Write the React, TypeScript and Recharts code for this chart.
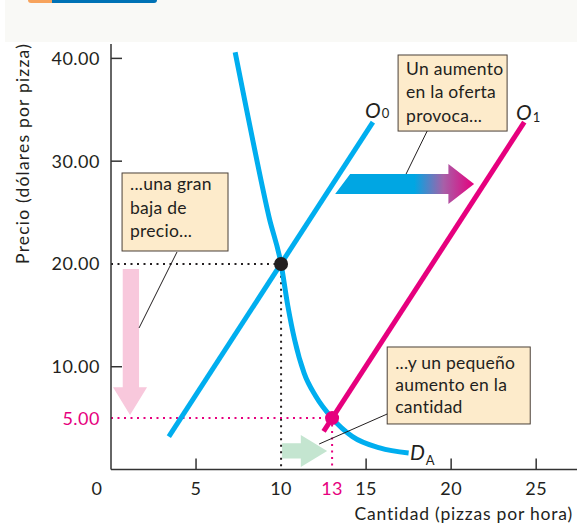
import React from 'react';
import {
  ComposedChart,
  Line,
  XAxis,
  YAxis,
  Label,
  ReferenceArea,
  ReferenceLine,
  ReferenceDot,
} from 'recharts';

// ---------- data ----------
const priceTicks = [5, 10, 20, 30, 40];
const quantityTicks = [0, 5, 10, 13, 15, 20, 25];
const priceDomain = [0, 41.4];
const quantityDomain = [0, 27.4];

const supplyO0 = [
  { q: 3.4, p: 3.2 },
  { q: 15.4, p: 33.8 },
];
const supplyO1 = [
  { q: 12.5, p: 3.7 },
  { q: 24.3, p: 33.8 },
];
const demandDA = [
  { q: 7.3, p: 40.6 },
  { q: 7.9, p: 35.6 },
  { q: 8.45, p: 31.1 },
  { q: 9.3, p: 24.5 },
  { q: 10, p: 20 },
  { q: 10.4, p: 15.9 },
  { q: 10.8, p: 12.6 },
  { q: 11.35, p: 9.4 },
  { q: 12.05, p: 7.1 },
  { q: 13, p: 5 },
  { q: 14.2, p: 3.2 },
  { q: 15.8, p: 2.1 },
  { q: 17.5, p: 1.6 },
];
const initialEquilibrium = { q: 10, p: 20 };
const newEquilibrium = { q: 13, p: 5 };
const initialGuide = [
  { q: 0, p: 20 },
  { q: 10, p: 20 },
  { q: 10, p: 0 },
];
const newGuide = [
  { q: 0, p: 5 },
  { q: 13, p: 5 },
  { q: 13, p: 0 },
];

const yTitle = 'Precio (dólares por pizza)';
const xTitle = 'Cantidad (pizzas por hora)';
const calloutPrice = ['...una gran', 'baja de', 'precio...'];
const calloutSupply = ['Un aumento', 'en la oferta', 'provoca...'];
const calloutQuantity = ['...y un pequeño', 'aumento en la', 'cantidad'];

// ---------- styles ----------
const FONT = 'Lato, "Open Sans", sans-serif';
const INK = '#231f20';
const AXIS = '#333333';
const BLUE = '#00aeef';
const MAGENTA = '#e6007e';
const BOX_FILL = '#fdebcb';
const BOX_STROKE = '#4a4038';
const PINK_ARROW = '#f8c8dc';
const GREEN_ARROW = '#c4e5d0';

const YTick = (props: any) => {
  const { x, y, payload } = props;
  const v = payload.value;
  const pink = v === 5;
  const noLine = v === 5 || v === 20;
  return (
    <g>
      {!noLine && <line x1={x} x2={x + 11} y1={y} y2={y} stroke={AXIS} strokeWidth={1.5} />}
      <text
        x={x - 11}
        y={y}
        dy="0.36em"
        textAnchor="end"
        fontSize={18}
        letterSpacing={0.5}
        fontFamily={FONT}
        fill={pink ? MAGENTA : INK}
      >
        {v.toFixed(2)}
      </text>
    </g>
  );
};

const XTick = (props: any) => {
  const { x, y, payload } = props;
  const v = payload.value;
  const pink = v === 13;
  const noLine = v === 0 || v === 10 || v === 13;
  return (
    <g>
      {!noLine && <line x1={x} x2={x} y1={y} y2={y - 11} stroke={AXIS} strokeWidth={1.5} />}
      <text
        x={v === 0 ? x - 14 : x}
        y={y + 25}
        textAnchor="middle"
        fontSize={18}
        letterSpacing={0.5}
        fontFamily={FONT}
        fill={pink ? MAGENTA : INK}
      >
        {v}
      </text>
    </g>
  );
};

const calloutShape = (lines: string[], firstBaseline: number, gap: number) => (props: any) => {
  const { x, y, width, height } = props;
  return (
    <g>
      <rect x={x} y={y} width={width} height={height} fill={BOX_FILL} stroke={BOX_STROKE} strokeWidth={1} />
      {lines.map((l, i) => (
        <text
          key={i}
          x={x + 8}
          y={y + firstBaseline + i * gap}
          fontSize={17.5}
          letterSpacing={0.25}
          fontFamily={FONT}
          fill={INK}
        >
          {l}
        </text>
      ))}
    </g>
  );
};

const pinkArrowShape = (props: any) => {
  const { x, y, width: w, height: h } = props;
  const sl = x + 0.285 * w;
  const sr = x + 0.765 * w;
  const hy = y + 0.81 * h;
  const pts = [
    [sl, y],
    [sr, y],
    [sr, hy],
    [x + w, hy],
    [x + w / 2, y + h],
    [x, hy],
    [sl, hy],
  ]
    .map((p) => p.join(','))
    .join(' ');
  return <polygon points={pts} fill={PINK_ARROW} />;
};

const blueArrowShape = (props: any) => {
  const { x, y, width: w, height: h } = props;
  const hx = x + 0.815 * w;
  const st = y + 0.25 * h;
  const sb = y + 0.75 * h;
  const pts = [
    [x + 15, st],
    [hx, st],
    [hx, y],
    [x + w, y + h / 2],
    [hx, y + h],
    [hx, sb],
    [x, sb],
  ]
    .map((p) => p.join(','))
    .join(' ');
  return (
    <g>
      <defs>
        <linearGradient id="supplyShiftGrad" x1="0" x2="1" y1="0" y2="0">
          <stop offset="0" stopColor="#00a6e3" />
          <stop offset="0.57" stopColor="#00a6e3" />
          <stop offset="0.78" stopColor="#a760a8" />
          <stop offset="1" stopColor={MAGENTA} />
        </linearGradient>
      </defs>
      <polygon points={pts} fill="url(#supplyShiftGrad)" />
    </g>
  );
};

const greenArrowShape = (props: any) => {
  const { x, y, width: w, height: h } = props;
  const hx = x + 0.415 * w;
  const st = y + 0.26 * h;
  const sb = y + 0.73 * h;
  const pts = [
    [x, st],
    [hx, st],
    [hx, y],
    [x + w, y + h / 2],
    [hx, y + h],
    [hx, sb],
    [x, sb],
  ]
    .map((p) => p.join(','))
    .join(' ');
  return <polygon points={pts} fill={GREEN_ARROW} />;
};

const curveLabel = (main: string, sub: string, subDy: number) => (props: any) => {
  const { cx, cy } = props;
  return (
    <text x={cx} y={cy} fontFamily={FONT} fill={INK}>
      <tspan fontSize={21} fontStyle="italic">
        {main}
      </tspan>
      <tspan fontSize={13} dy={subDy} dx={1}>
        {sub}
      </tspan>
    </text>
  );
};

const YTitle = (props: any) => {
  const vb = props.viewBox || { x: 61, y: 44 };
  const tx = vb.x - 32;
  const ty = vb.y - 1;
  return (
    <text
      x={tx}
      y={ty}
      transform={`rotate(-90, ${tx}, ${ty})`}
      textAnchor="end"
      fontSize={17.5}
      letterSpacing={1.2}
      fontFamily={FONT}
      fill={INK}
    >
      {yTitle}
    </text>
  );
};

const XTitle = (props: any) => {
  const vb = props.viewBox || { x: 111, y: 469.5, width: 466 };
  return (
    <text
      x={vb.x + vb.width - 4}
      y={vb.y + 50.5}
      textAnchor="end"
      fontSize={17.5}
      letterSpacing={0.8}
      fontFamily={FONT}
      fill={INK}
    >
      {xTitle}
    </text>
  );
};

export default function App() {
  return (
    <div style={{ position: 'absolute', left: 0, top: 0, width: 577, height: 528, background: '#ffffff', overflow: 'hidden' }}>
      <div style={{ position: 'absolute', left: 5, top: 0, width: 572, height: 42, background: '#f9f9f6' }} />
      <div style={{ position: 'absolute', left: 28, top: 0, width: 28, height: 3, background: '#f7a35c', borderBottomLeftRadius: 3 }} />
      <div style={{ position: 'absolute', left: 52, top: 0, width: 105, height: 3, background: '#0072b5', borderBottomRightRadius: 3 }} />
      <div style={{ position: 'absolute', left: 0, top: 0 }}>
        <ComposedChart width={577} height={528} margin={{ top: 44, right: 0, bottom: 28.5, left: 61 }}>
          <XAxis
            dataKey="q"
            type="number"
            domain={quantityDomain}
            ticks={quantityTicks}
            interval={0}
            allowDataOverflow
            tickSize={0}
            tickMargin={0}
            tickLine={false}
            height={30}
            axisLine={{ stroke: AXIS, strokeWidth: 1.5 }}
            tick={<XTick />}
          >
            <Label content={<XTitle />} />
          </XAxis>
          <YAxis
            type="number"
            domain={priceDomain}
            ticks={priceTicks}
            interval={0}
            allowDataOverflow
            tickSize={0}
            tickMargin={0}
            tickLine={false}
            width={50}
            axisLine={{ stroke: AXIS, strokeWidth: 1.5 }}
            tick={<YTick />}
          >
            <Label content={<YTitle />} />
          </YAxis>

          <Line data={initialGuide} dataKey="p" stroke={INK} strokeWidth={2} strokeDasharray="2 4.5" dot={false} activeDot={false} isAnimationActive={false} type="linear" />
          <Line data={newGuide} dataKey="p" stroke={MAGENTA} strokeWidth={2} strokeDasharray="2 4.5" dot={false} activeDot={false} isAnimationActive={false} type="linear" />

          <ReferenceArea x1={0.12} x2={2.12} y1={5.3} y2={19.5} shape={pinkArrowShape} ifOverflow="visible" />
          <ReferenceArea x1={13.18} x2={21.35} y1={25.83} y2={29.72} shape={blueArrowShape} ifOverflow="visible" />
          <ReferenceArea x1={10.06} x2={12.71} y1={0.24} y2={3.36} shape={greenArrowShape} ifOverflow="visible" />

          <Line data={supplyO0} dataKey="p" stroke={BLUE} strokeWidth={5} dot={false} activeDot={false} isAnimationActive={false} type="linear" />
          <Line data={supplyO1} dataKey="p" stroke={MAGENTA} strokeWidth={5} dot={false} activeDot={false} isAnimationActive={false} type="linear" />
          <Line data={demandDA} dataKey="p" stroke={BLUE} strokeWidth={5} dot={false} activeDot={false} isAnimationActive={false} type="monotone" />

          <ReferenceDot x={initialEquilibrium.q} y={initialEquilibrium.p} r={7} fill={INK} stroke="none" ifOverflow="visible" />
          <ReferenceDot x={newEquilibrium.q} y={newEquilibrium.p} r={7} fill={MAGENTA} stroke="none" ifOverflow="visible" />

          <ReferenceLine segment={[{ x: 3.88, y: 21.16 }, { x: 1.65, y: 13.77 }]} stroke={INK} strokeWidth={1} ifOverflow="visible" />
          <ReferenceLine segment={[{ x: 18.59, y: 32.93 }, { x: 17.35, y: 28.75 }]} stroke={INK} strokeWidth={1} ifOverflow="visible" />
          <ReferenceLine segment={[{ x: 16.24, y: 5.4 }, { x: 12.24, y: 2.48 }]} stroke={INK} strokeWidth={1} ifOverflow="visible" />

          <ReferenceArea x1={0.65} x2={6.88} y1={21.26} y2={28.85} shape={calloutShape(calloutPrice, 17.5, 23.3)} ifOverflow="visible" />
          <ReferenceArea x1={16.88} x2={23.29} y1={32.93} y2={40.33} shape={calloutShape(calloutSupply, 20, 23.3)} ifOverflow="visible" />
          <ReferenceArea x1={16.24} x2={24.65} y1={4.43} y2={11.92} shape={calloutShape(calloutQuantity, 22, 22)} ifOverflow="visible" />

          <ReferenceDot x={14.94} y={34.2} r={1} shape={curveLabel('O', '0', 0)} ifOverflow="visible" />
          <ReferenceDot x={23.82} y={34.0} r={1} shape={curveLabel('O', '1', 2)} ifOverflow="visible" />
          <ReferenceDot x={17.58} y={0.92} r={1} shape={curveLabel('D', 'A', 5)} ifOverflow="visible" />
        </ComposedChart>
      </div>
    </div>
  );
}
